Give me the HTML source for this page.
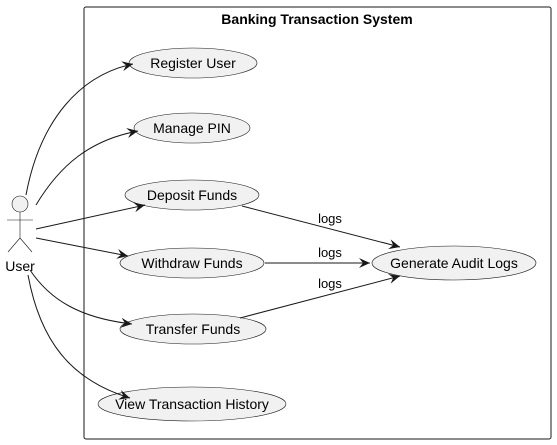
<!DOCTYPE html>
<html><head><style>
body{margin:0;background:#fff;}
svg{display:block;font-family:"Liberation Sans",sans-serif;}
</style></head><body>
<svg width="557" height="445" viewBox="0 0 557 445">
<defs><marker id="a" markerWidth="12" markerHeight="10" refX="11" refY="5" orient="auto" markerUnits="userSpaceOnUse"><path d="M0,0 L11,5 L0,10 L4,5 Z" fill="#181818"/></marker></defs>
<rect x="84" y="7" width="467" height="432" rx="2" fill="#fff" stroke="#181818" stroke-width="1"/>
<text x="317" y="24" font-size="14" font-weight="bold" text-anchor="middle">Banking Transaction System</text>
<g fill="#f1f1f1" stroke="#181818" stroke-width="0.6">
<ellipse cx="193" cy="63" rx="64" ry="15"/>
<ellipse cx="192" cy="128" rx="58" ry="15"/>
<ellipse cx="192" cy="195" rx="67" ry="15"/>
<ellipse cx="192" cy="263" rx="72" ry="15"/>
<ellipse cx="193" cy="329" rx="73" ry="15"/>
<ellipse cx="192" cy="404" rx="94" ry="17"/>
<ellipse cx="454" cy="263" rx="82" ry="17"/>
</g>
<g font-size="14" text-anchor="middle" fill="#000">
<text x="193" y="68">Register User</text>
<text x="192" y="133">Manage PIN</text>
<text x="192" y="200">Deposit Funds</text>
<text x="192" y="268">Withdraw Funds</text>
<text x="193" y="334">Transfer Funds</text>
<text x="192" y="409">View Transaction History</text>
<text x="454" y="268">Generate Audit Logs</text>
</g>
<g fill="none" stroke="#181818" stroke-width="1">
<circle cx="20" cy="204" r="8" fill="#f1f1f1" stroke-width="0.6"/>
<path d="M20,212 V238 M7,220 H33 M20,238 L8,252 M20,238 L32,252" stroke-width="0.6"/>
<path d="M26,195 C40,120 80,75 133,64" marker-end="url(#a)"/>
<path d="M36,205 C60,165 90,140 138,131" marker-end="url(#a)"/>
<path d="M36,229 L145,205" marker-end="url(#a)"/>
<path d="M36,238 L128,256" marker-end="url(#a)"/>
<path d="M30,270 C50,300 80,318 132,324" marker-end="url(#a)"/>
<path d="M28,275 C40,340 70,380 130,398" marker-end="url(#a)"/>
<path d="M242,206 L400,247" marker-end="url(#a)"/>
<path d="M265,263 L370,263" marker-end="url(#a)"/>
<path d="M240,318 L400,276" marker-end="url(#a)"/>
</g>
<text x="20" y="271" font-size="14" text-anchor="middle">User</text>
<g font-size="13" text-anchor="middle">
<text x="330" y="223">logs</text>
<text x="330" y="257">logs</text>
<text x="330" y="288">logs</text>
</g>
</svg>
</body></html>
